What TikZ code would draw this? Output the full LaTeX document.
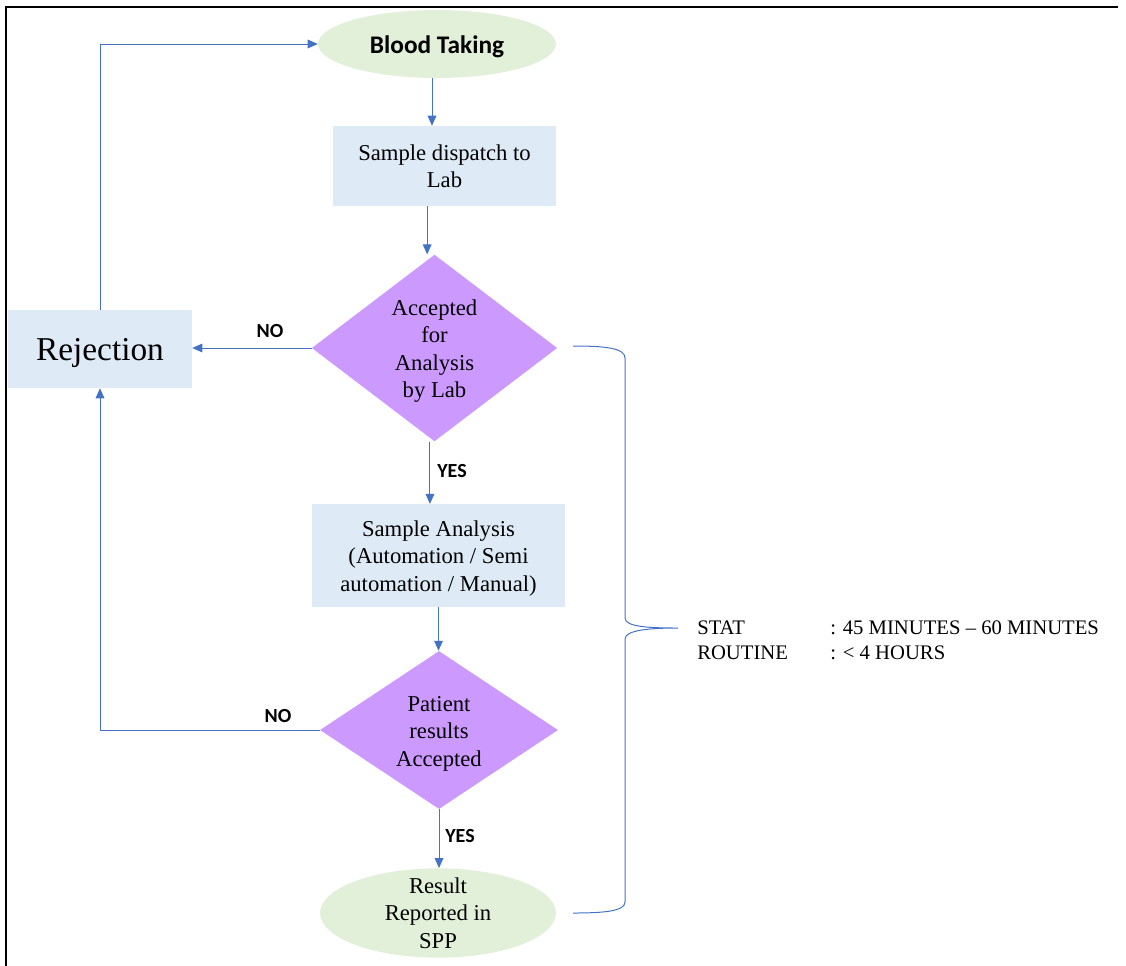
\documentclass[tikz,border=0pt]{standalone}
\usepackage{fontspec}
\setmainfont{Liberation Serif}
\newfontfamily\carfont{Carlito}
\usetikzlibrary{shapes.geometric,arrows.meta,calc}
\definecolor{bgreen}{HTML}{E2F0D9}
\definecolor{bblue}{HTML}{DEEBF7}
\definecolor{bpurple}{HTML}{CC99FF}
\definecolor{lblue}{HTML}{4472C4}
\begin{document}
\begin{tikzpicture}[x=0.75pt,y=-0.75pt,
  box/.style={rectangle, fill=bblue, inner sep=0pt},
  oval/.style={ellipse, fill=bgreen, inner sep=0pt},
  dec/.style={diamond, fill=bpurple, inner sep=0pt},
  intext/.style={align=center, font=\fontsize{17}{20.6}\selectfont, inner sep=0pt},
  titletext/.style={font=\carfont\bfseries\fontsize{19}{22}\selectfont, inner sep=0pt},
  lbl/.style={font=\carfont\bfseries\fontsize{15}{18}\selectfont, inner sep=0pt},
  arr/.style={draw=lblue, line width=0.75pt, -{Triangle[length=7.5pt,width=6.5pt]}},
  bracestyle/.style={draw=lblue, line width=0.75pt},
  rtxt/.style={font=\fontsize{15.5}{19}\selectfont, inner sep=0pt, anchor=base west}
]
\useasboundingbox (0,0) rectangle (1126,965);
% frame
\draw[line width=1.8pt] (6,970) -- (6,6.7) -- (1118,6.7);

% nodes
\node[oval, minimum width=178.5pt, minimum height=51pt,
  label={[titletext, yshift=-2.2pt]center:Blood Taking}] (bt) at (437,44) {};
\node[box, minimum width=167.25pt, minimum height=60pt,
  label={[intext]center:{Sample dispatch to\\Lab}}] (sd) at (444.5,166) {};
\node[dec, minimum width=184pt, minimum height=140pt,
  label={[intext, yshift=-2.2pt]center:{Accepted\\for\\Analysis\\by Lab}}] (d1) at (434.5,348) {};
\node[box, minimum width=138pt, minimum height=58.5pt,
  label={[intext, font=\fontsize{25}{30}\selectfont, yshift=-2.8pt]center:Rejection}] (rej) at (100,349) {};
\node[box, minimum width=190pt, minimum height=77pt,
  label={[intext, yshift=-2.2pt]center:{Sample Analysis\\(Automation / Semi\\automation / Manual)}}] (sa) at (438.5,555.5) {};
\node[dec, minimum width=178.5pt, minimum height=118.5pt,
  label={[intext, yshift=-2.6pt]center:{Patient\\results\\Accepted}}] (d2) at (439,730) {};
\node[oval, minimum width=177pt, minimum height=67pt,
  label={[intext]center:{Result\\Reported in\\SPP}}] (res) at (438,913) {};

% labels
\node[lbl] (no1) at (270,331) {NO};
\node[lbl] (yes1) at (452,471) {YES};
\node[lbl] (no2) at (278,716) {NO};
\node[lbl] (yes2) at (460,836) {YES};

% connectors
\draw[arr] ([xshift=-3.75pt]bt.south) -- ([xshift=-3.75pt]bt.south |- sd.north);
\draw[arr] ([xshift=-13pt]sd.south) -- ([xshift=-13pt]sd.south |- d1.north);
\draw[arr] (d1.west) -- (d1.west -| rej.east);
\draw[arr] (rej.north) |- (bt.west);
\draw[arr] ([xshift=-3.4pt]d1.south) -- ([xshift=-3.4pt]d1.south |- sa.north);
\draw[arr] (sa.south) -- (sa.south |- d2.north);
\draw[arr] (d2.west) -| (rej.south);
\draw[arr] (d2.south) -- (d2.south |- res.north);

% brace
\coordinate (btop) at (573,346);
\coordinate (btip) at (678,628);
\coordinate (bbot) at (573,913);
\draw[bracestyle] (btop) .. controls (605,346) and (625,348) .. (625,358)
  -- (625,618) .. controls (625,627) and (650,628) .. (btip)
  (btip) .. controls (650,628) and (625,630) .. (625,639)
  -- (625,902) .. controls (625,911) and (605,913) .. (bbot);

% right text
\node[rtxt] (stat) at (697,634) {STAT};
\node[rtxt] (statv) at (830,634) {: 45 MINUTES – 60 MINUTES};
\node[rtxt] (rout) at (697,659) {ROUTINE};
\node[rtxt] (routv) at (830,659) {: < 4 HOURS};
\end{tikzpicture}
\end{document}
